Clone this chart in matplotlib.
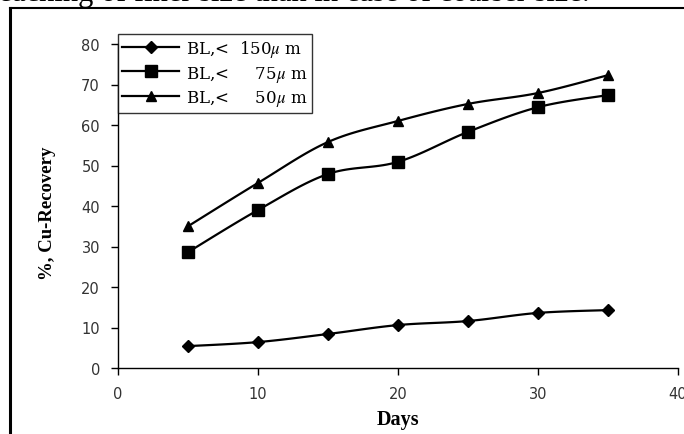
import numpy as np
import matplotlib
matplotlib.use("Agg")
import matplotlib.pyplot as plt
from matplotlib.lines import Line2D

# leaching time (days) and copper recovery (%) for each size fraction
days = [5, 10, 15, 20, 25, 30, 35]
rec_150 = [5.4, 6.4, 8.4, 10.6, 11.6, 13.6, 14.3]
rec_75 = [28.6, 39.0, 47.9, 50.9, 58.3, 64.4, 67.4]
rec_50 = [35.0, 45.7, 55.8, 61.0, 65.2, 67.9, 72.3]

series_labels = ["BL,<  150$\\mu$ m", "BL,<     75$\\mu$ m", "BL,<     50$\\mu$ m"]
series_markers = ["D", "s", "^"]
series_sizes = [6, 8, 7.5]

plt.rcParams["mathtext.fontset"] = "stix"


def smooth(x, y, n=20):
    # Bezier smoothing through every point (tangents from neighbours)
    x = np.asarray(x, float)
    y = np.asarray(y, float)
    px = np.concatenate([[x[0]], x, [x[-1]]])
    py = np.concatenate([[y[0]], y, [y[-1]]])
    t = np.linspace(0, 1, n)
    xs, ys = [], []
    for i in range(len(x) - 1):
        p0 = np.array([x[i], y[i]])
        p3 = np.array([x[i + 1], y[i + 1]])
        p1 = p0 + (np.array([px[i + 2], py[i + 2]]) - np.array([px[i], py[i]])) / 6
        p2 = p3 - (np.array([px[i + 3], py[i + 3]]) - np.array([px[i + 1], py[i + 1]])) / 6
        b = ((1 - t) ** 3)[:, None] * p0 + (3 * (1 - t) ** 2 * t)[:, None] * p1 \
            + (3 * (1 - t) * t ** 2)[:, None] * p2 + (t ** 3)[:, None] * p3
        xs.extend(b[:, 0])
        ys.extend(b[:, 1])
    return xs, ys


fig = plt.figure(figsize=(6.84, 4.35), dpi=100)
ax = fig.add_axes([118 / 684, 1 - 369 / 435, 560 / 684, 324 / 435])

for vals, mk, ms in zip([rec_150, rec_75, rec_50], series_markers, series_sizes):
    sx, sy = smooth(days, vals)
    ax.plot(sx, sy, color="black", lw=1.6, clip_on=False)
    ax.plot(days, vals, linestyle="none", marker=mk, ms=ms, color="black", clip_on=False)

ax.set_xlim(0, 40)
ax.set_ylim(0, 80)
ax.set_xticks(range(0, 41, 10))
ax.set_yticks(range(0, 81, 10))
for s in ["top", "right"]:
    ax.spines[s].set_visible(False)
for s in ["left", "bottom"]:
    ax.spines[s].set_linewidth(1.0)
ax.tick_params(direction="out", length=5, width=1, labelsize=10.5,
               labelcolor="#333333", pad=8)
for lab in ax.get_xticklabels() + ax.get_yticklabels():
    lab.set_family("DejaVu Sans")

ax.set_xlabel("Days", fontfamily="Liberation Serif", fontweight="bold",
              fontsize=14.5, labelpad=6)
ax.set_ylabel("%, Cu-Recovery", fontfamily="Liberation Serif", fontweight="bold",
              fontsize=13.5, labelpad=18)
ax.yaxis.label.set_y(0.48)

handles = [Line2D([], [], color="black", lw=1.6, marker=m, ms=s)
           for m, s in zip(series_markers, series_sizes)]
leg = ax.legend(handles, series_labels, loc="upper left",
                bbox_to_anchor=(0.0, 1.031), frameon=True, fancybox=False,
                prop={"family": "DejaVu Serif", "size": 12},
                handlelength=3.4, handleheight=1.0, borderpad=0.25,
                labelspacing=0.28, handletextpad=0.45, borderaxespad=0)
leg.get_frame().set_edgecolor("black")
leg.get_frame().set_linewidth(1.0)

# page frame and the clipped sentence above it
fig.add_artist(Line2D([10 / 684, 10 / 684], [0, 1 - 9 / 435], color="black", lw=2.2))
fig.add_artist(Line2D([10 / 684, 1], [1 - 9 / 435, 1 - 9 / 435], color="black", lw=1.5))
fig.text(-10 / 684, 1 - 1 / 435, "leaching of finer size than in case of coarser size.",
         fontfamily="Liberation Serif", fontsize=22, va="baseline", ha="left")

fig.savefig("out.png", dpi=100)
